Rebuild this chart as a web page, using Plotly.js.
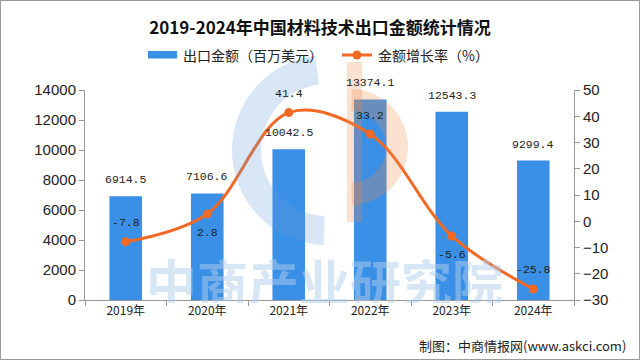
<!DOCTYPE html>
<html>
<head>
<meta charset="utf-8">
<script src="https://cdn.plot.ly/plotly-3.0.1.min.js"></script>
<style>
html,body{margin:0;padding:0;background:#fff;}
#chart{width:640px;height:360px;box-sizing:border-box;border:1px solid #9a9a9a;}
</style>
</head>
<body>
<div id="chart"></div>
<script>
const years = ['2019年','2020年','2021年','2022年','2023年','2024年'];
const exportValues = [6914.5, 7106.6, 10042.5, 13374.1, 12543.3, 9299.4];
const growthRates = [-7.8, 2.8, 41.4, 33.2, -5.6, -25.8];
const growthLabelSide = [1, -1, 1, 1, -1, 1];
const barName = '出口金额（百万美元）';
const lineName = '金额增长率（%）';

const barColor = '#3a8fe6';
const lineColor = '#f06a25';
const labelFont = {family: 'Liberation Mono, DejaVu Sans Mono, monospace', size: 11.5, color: '#222'};

const traces = [
  {type: 'bar', x: years, y: exportValues, name: barName, marker: {color: barColor}, yaxis: 'y', hoverinfo: 'none'},
  {type: 'scatter', mode: 'lines+markers', x: years, y: growthRates, name: lineName, yaxis: 'y2',
   line: {color: lineColor, width: 3, shape: 'spline', smoothing: 1}, marker: {color: lineColor, size: 9}, hoverinfo: 'none'}
];

// plot-area pixel geometry helpers for decorative watermark / legend
const PL = 85, PT = 90, PW = 489, PH = 210;
function P(x, y) { return ((x - PL) / PW).toFixed(4) + ',' + ((PT + PH - y) / PH).toFixed(4); }
function ringPath(cx, cy, ro, ri, a0, a1) {
  let d = '';
  const n = 40;
  for (let k = 0; k <= n; k++) {
    const a = (a0 + (a1 - a0) * k / n) * Math.PI / 180;
    d += (k === 0 ? 'M' : 'L') + P(cx + ro * Math.cos(a), cy - ro * Math.sin(a));
  }
  for (let k = n; k >= 0; k--) {
    const a = (a0 + (a1 - a0) * k / n) * Math.PI / 180;
    d += 'L' + P(cx + ri * Math.cos(a), cy - ri * Math.sin(a));
  }
  return d + 'Z';
}
function rectPath(x0, y0, x1, y1) { return 'M' + P(x0, y0) + 'L' + P(x1, y0) + 'L' + P(x1, y1) + 'L' + P(x0, y1) + 'Z'; }

const logoBlue = 'rgba(105,155,215,0.25)';
const logoOrange = 'rgba(238,138,72,0.26)';

const annotations = [];
// watermark text first (drawn beneath labels)
annotations.push({xref: 'paper', yref: 'paper', x: (324 - PL) / PW, y: (PT + PH - 281) / PH, xanchor: 'center', yanchor: 'middle',
  text: '中商产业研究院', showarrow: false, height: 44, valign: 'middle', borderpad: 0,
  font: {family: 'Noto Sans CJK SC', size: 51, color: 'rgba(175,205,235,0.5)', weight: 'bold'}});
years.forEach((c, i) => {
  annotations.push({x: c, y: exportValues[i], xref: 'x', yref: 'y', text: exportValues[i].toFixed(1),
    showarrow: false, yanchor: 'bottom', yshift: 8, font: labelFont});
  annotations.push({x: c, y: growthRates[i], xref: 'x', yref: 'y2', text: growthRates[i].toFixed(1),
    showarrow: false, yanchor: 'middle', yshift: 19 * growthLabelSide[i], font: labelFont});
});
// legend texts
annotations.push({xref: 'paper', yref: 'paper', x: (181 - PL) / PW, y: (PT + PH - 55) / PH, xanchor: 'left', yanchor: 'middle', text: barName,
  showarrow: false, font: {family: 'Noto Sans CJK SC', size: 14, color: '#222'}});
annotations.push({xref: 'paper', yref: 'paper', x: (376 - PL) / PW, y: (PT + PH - 55) / PH, xanchor: 'left', yanchor: 'middle', text: lineName,
  showarrow: false, font: {family: 'Noto Sans CJK SC', size: 14, color: '#222'}});
// footer
annotations.push({xref: 'paper', yref: 'paper', x: (628 - PL) / PW, y: (PT + PH - 345) / PH, xanchor: 'right', yanchor: 'middle',
  text: '制图：中商情报网(www.askci.com)', showarrow: false, font: {family: 'Noto Sans CJK SC', size: 13, color: '#222'}});

const shapes = [
  // logo watermark
  {type: 'path', xref: 'paper', yref: 'paper', layer: 'above', path: ringPath(327, 150, 95, 66, 97, 268), fillcolor: logoBlue, line: {width: 0}},
  {type: 'path', xref: 'paper', yref: 'paper', layer: 'above', path: rectPath(347, 62, 362, 222), fillcolor: logoOrange, line: {width: 0}},
  {type: 'path', xref: 'paper', yref: 'paper', layer: 'above', path: ringPath(350, 147, 58, 36, -88, 88), fillcolor: logoOrange, line: {width: 0}},
  // legend swatches
  {type: 'path', xref: 'paper', yref: 'paper', path: rectPath(148, 51, 177, 58.5), fillcolor: barColor, line: {width: 0}},
  {type: 'path', xref: 'paper', yref: 'paper', path: 'M' + P(342, 55) + 'L' + P(372, 55), line: {color: lineColor, width: 3}},
  {type: 'circle', xref: 'paper', yref: 'paper', xsizemode: 'pixel', ysizemode: 'pixel', xanchor: (357 - PL) / PW, yanchor: (PT + PH - 55) / PH,
   x0: -4.5, x1: 4.5, y0: -4.5, y1: 4.5, fillcolor: lineColor, line: {width: 0}}
];

const axisCommon = {showgrid: false, zeroline: false, showline: true, linecolor: '#999', linewidth: 1,
  ticks: 'outside', ticklen: 5, tickcolor: '#999'};

const layout = {
  width: 638, height: 358,
  margin: {l: 84, r: 65, t: 89, b: 59},
  paper_bgcolor: '#fff', plot_bgcolor: '#fff',
  showlegend: false,
  bargap: 0.6,
  title: {text: '2019-2024年中国材料技术出口金额统计情况', x: 0.5, xanchor: 'center', y: 1 - 27 / 358, yanchor: 'middle',
    font: {family: 'Noto Sans CJK SC', size: 17, color: '#111', weight: 'bold'}},
  xaxis: Object.assign({}, axisCommon, {tickson: 'boundaries', tickfont: {family: 'Noto Sans CJK SC', size: 12, color: '#222'}}),
  yaxis: Object.assign({}, axisCommon, {range: [0, 14000], dtick: 2000, tickformat: 'd', tickfont: {family: 'Liberation Sans, Arial', size: 15, color: '#222'}}),
  yaxis2: Object.assign({}, axisCommon, {overlaying: 'y', side: 'right', range: [-30, 50], dtick: 10, tickformat: 'd',
    tickfont: {family: 'Liberation Sans, Arial', size: 15, color: '#222'}}),
  annotations: annotations,
  shapes: shapes
};

Plotly.newPlot('chart', traces, layout, {displayModeBar: false, staticPlot: true});
</script>
</body>
</html>
